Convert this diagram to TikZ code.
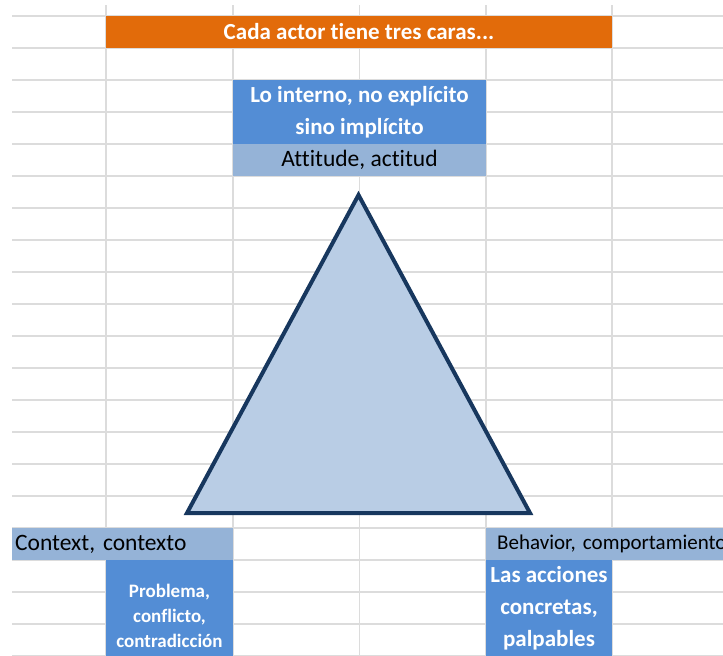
\documentclass[tikz,border=0pt]{standalone}
\usepackage{fontspec}
\setmainfont{Carlito}[Ligatures=CommonOff]
\usepackage{tikz}
\usetikzlibrary{calc}
\frenchspacing

\definecolor{titleorange}{RGB}{226,107,10}
\definecolor{cellblue}{RGB}{83,141,213}
\definecolor{bandblue}{RGB}{149,179,215}
\definecolor{faceblue}{RGB}{185,205,229}
\definecolor{edgenavy}{RGB}{23,55,94}
\definecolor{gridgray}{RGB}{220,220,220}

\begin{document}
\begin{tikzpicture}[x=1pt, y=-1pt,
        grid_style/.style={draw=gridgray, line width=1.5pt},
        title_style/.style={fill=titleorange, text=white, inner sep=0pt, minimum height=32pt,
            font=\fontsize{23}{32}\selectfont\bfseries},
        cell_style/.style={fill=cellblue, text=white, inner sep=0pt, align=center,
            font=\fontsize{23}{32}\selectfont\bfseries},
        band_style/.style={fill=bandblue, text=black, inner sep=0pt, minimum height=32pt,
            font=\fontsize{23.5}{28}\selectfont},
        face_style/.style={draw=edgenavy, fill=faceblue, line width=4pt, line join=miter}]

        \useasboundingbox (0,0) rectangle (723,656);
        \clip (0,0) rectangle (723,656);

        % spreadsheet grid
        \foreach \k in {0,...,20}
            \draw [grid_style] (12,16+32*\k) -- (723,16+32*\k);
        \foreach \c in {106,233,359.5,486,612}
            \draw [grid_style] (\c,5) -- (\c,656);

        \node [title_style, minimum width=506pt](title) at (359,32) {Cada actor tiene tres caras...};

        \node [cell_style, minimum width=253pt, minimum height=64pt](interno) at (359.5,112)
            {Lo interno, no explícito\\sino implícito};

        \node [band_style, minimum width=253pt](attitude) at (359.5,160) {Attitude, actitud};

        % the triangle
        \coordinate (apex) at (358.5,195);
        \coordinate (baseleft) at (187,513);
        \coordinate (baseright) at (530,513);
        \draw [face_style] (apex) -- (baseleft) -- (baseright) -- cycle;

        \node [band_style, text width=215pt, align=left, inner xsep=3pt, anchor=west](context)
            at (12,544) {Context, contexto};

        \node [band_style, text width=226pt, inner xsep=11pt, anchor=west,
            font=\fontsize{21}{28}\selectfont](behavior) at (486,544) {\mbox{Behavior, comportamiento}};

        \node [cell_style, minimum width=127pt, minimum height=112pt,
            font=\fontsize{19}{25}\selectfont\bfseries](problema) at (169.5,616)
            {Problema,\\conflicto,\\contradicción};

        \node [cell_style, minimum width=126pt, minimum height=96pt](acciones) at (549,608)
            {Las acciones\\concretas,\\palpables};

        \end{tikzpicture}
\end{document}
